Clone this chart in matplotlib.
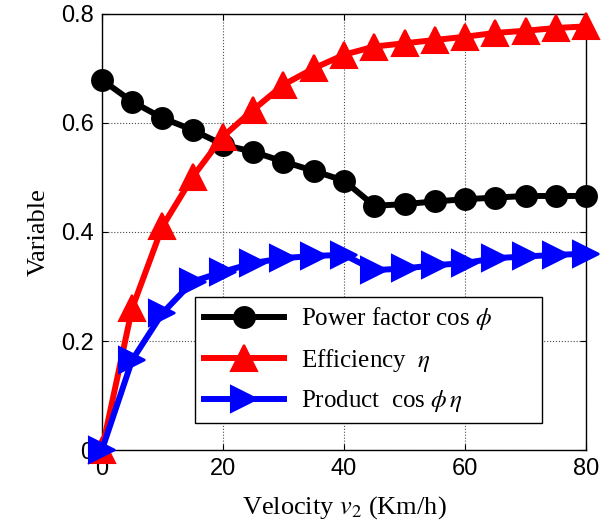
import matplotlib
matplotlib.use("Agg")
import matplotlib.pyplot as plt

speed = [0, 5, 10, 15, 20, 25, 30, 35, 40, 45, 50, 55, 60, 65, 70, 75, 80]
power_factor = [0.679, 0.639, 0.609, 0.587, 0.560, 0.547, 0.529, 0.512, 0.494,
                0.448, 0.451, 0.456, 0.460, 0.463, 0.466, 0.466, 0.466]
efficiency = [0.0, 0.26, 0.41, 0.501, 0.575, 0.624, 0.670, 0.700, 0.725,
              0.740, 0.746, 0.752, 0.758, 0.765, 0.769, 0.774, 0.777]
product = [0.0, 0.165, 0.251, 0.309, 0.327, 0.343, 0.352, 0.356, 0.358,
           0.330, 0.333, 0.339, 0.343, 0.352, 0.355, 0.358, 0.360]

plt.rcParams['mathtext.fontset'] = 'stix'

fig = plt.figure(figsize=(6.1, 5.32), dpi=100)
ax = fig.add_axes([0.167, 0.154, 0.794, 0.820])

lw = 4.3
ax.plot(speed, power_factor, '-o', color='k', lw=lw, ms=15, mew=1.5,
        clip_on=False, zorder=3, label=r'Power factor cos $\phi$')
ax.plot(speed, efficiency, '-^', color='r', lw=lw, ms=19, mew=1.5,
        clip_on=False, zorder=3, label=r'Efficiency  $\eta$')
ax.plot(speed, product, '->', color='b', lw=lw, ms=19, mew=1.5,
        clip_on=False, zorder=3, label=r'Product  cos $\phi\,\eta$')

ax.set_xlim(0, 80)
ax.set_ylim(0, 0.8)
ax.set_xticks([0, 20, 40, 60, 80])
ax.set_yticks([0, 0.2, 0.4, 0.6, 0.8])
ax.set_yticklabels(['0', '0.2', '0.4', '0.6', '0.8'])
ax.tick_params(direction='in', top=True, right=True, labelsize=17, length=4, pad=6)
for lab in ax.get_xticklabels() + ax.get_yticklabels():
    lab.set_fontfamily('Liberation Sans')
ax.grid(True, linestyle=':', color='0.3', linewidth=0.8)
for s in ax.spines.values():
    s.set_linewidth(1.0)
ax.set_axisbelow(True)

ax.set_xlabel(r'Velocity $v_2$ (Km/h)', family='Liberation Serif', fontsize=19, labelpad=10)
ax.set_ylabel('Variable', family='Liberation Serif', fontsize=19, labelpad=8)

leg = ax.legend(loc='lower left', bbox_to_anchor=(0.192, 0.062, 0.717, 0.291), mode='expand',
                prop={'family': 'Liberation Serif', 'size': 18}, handlelength=3.2,
                handletextpad=0.7, fancybox=False, edgecolor='k', framealpha=1,
                borderaxespad=0, borderpad=0.35, labelspacing=0.58)
leg.get_frame().set_linewidth(1.0)
leg.set_zorder(5)

fig.savefig('out.png', dpi=100)
